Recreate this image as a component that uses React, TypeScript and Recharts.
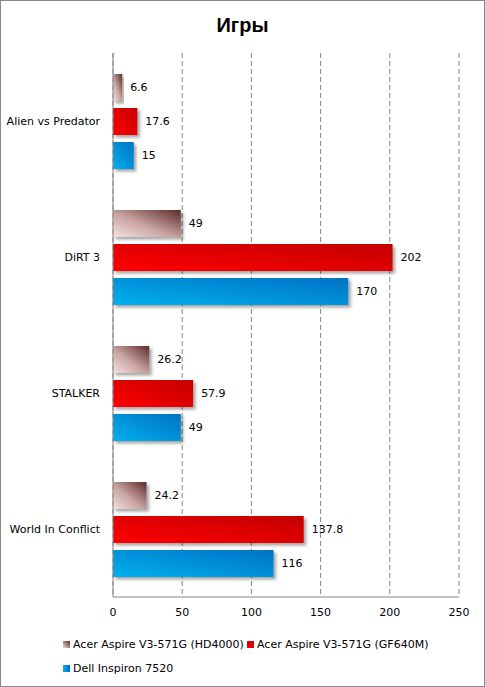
import React from "react";
import { BarChart, Bar, XAxis, YAxis, CartesianGrid, LabelList } from "recharts";

const categories = ["Alien vs Predator", "DiRT 3", "STALKER", "World In Conflict"];
const hd4000 = [6.6, 49, 26.2, 24.2];
const gf640m = [17.6, 202, 57.9, 137.8];
const dell = [15, 170, 49, 116];
const xTicks = [0, 50, 100, 150, 200, 250];
const seriesNames = [
  "Acer Aspire V3-571G (HD4000)",
  "Acer Aspire V3-571G (GF640M)",
  "Dell Inspiron 7520",
];

const data = categories.map((name, i) => ({
  name,
  hd4000: hd4000[i],
  gf640m: gf640m[i],
  dell: dell[i],
}));

const FONT = "Tahoma, 'DejaVu Sans', sans-serif";
const AXIS = "#868686";

const legendItems = [
  { name: seriesNames[0], bg: "linear-gradient(45deg, #f2dcdb, #5b2a28)", left: 63, top: 638 },
  { name: seriesNames[1], bg: "#e00000", left: 247, top: 638 },
  { name: seriesNames[2], bg: "linear-gradient(90deg, #00b0f0, #0070c0)", left: 63, top: 662 },
];

// category label without wrapping
const CategoryTick = (props: any) => {
  const { x, y, payload } = props;
  return (
    <text x={x} y={y} dy={4} textAnchor="end" fill="#000" fontSize={11} fontFamily={FONT}>
      {payload.value}
    </text>
  );
};

export default function App() {
  return (
    <div
      style={{
        position: "absolute",
        left: 0,
        top: 0,
        width: 485,
        height: 687,
        background: "#fff",
        fontFamily: FONT,
      }}
    >
      <div
        style={{
          position: "absolute",
          inset: 0,
          border: "1px solid #888",
          pointerEvents: "none",
        }}
      />
      <div
        style={{
          position: "absolute",
          top: 14,
          left: 0,
          width: 485,
          textAlign: "center",
          fontFamily: "'Liberation Sans', Arial, sans-serif",
          fontWeight: "bold",
          fontSize: 20,
          color: "#000",
        }}
      >
        Игры
      </div>
      <BarChart
        width={485}
        height={687}
        data={data}
        layout="vertical"
        margin={{ top: 53, right: 26, bottom: 60, left: 0 }}
        barSize={27}
        barGap={7}
      >
        <defs>
          <linearGradient id="gHd" x1="0" y1="1" x2="1" y2="0">
            <stop offset="0%" stopColor="#f4e2e1" />
            <stop offset="45%" stopColor="#c9a4a2" />
            <stop offset="100%" stopColor="#5b2a28" />
          </linearGradient>
          <linearGradient id="gGf" x1="0" y1="1" x2="1" y2="0">
            <stop offset="0%" stopColor="#ff0000" />
            <stop offset="100%" stopColor="#c20000" />
          </linearGradient>
          <linearGradient id="gDell" x1="0" y1="1" x2="1" y2="0">
            <stop offset="0%" stopColor="#00b0f0" />
            <stop offset="100%" stopColor="#0072c2" />
          </linearGradient>
          <filter id="shadow" x="-10%" y="-20%" width="130%" height="160%">
            <feDropShadow dx="2.5" dy="2.5" stdDeviation="1.5" floodColor="#000" floodOpacity="0.35" />
          </filter>
        </defs>
        <CartesianGrid horizontal={false} stroke={AXIS} strokeDasharray="5 3" />
        <XAxis
          type="number"
          domain={[0, 250]}
          ticks={xTicks}
          axisLine={{ stroke: AXIS }}
          tickLine={false}
          tickMargin={5}
          height={30}
          tick={{ fill: "#000", fontSize: 11, fontFamily: FONT }}
        />
        <YAxis
          type="category"
          dataKey="name"
          width={113}
          axisLine={{ stroke: AXIS }}
          tickLine={false}
          tickMargin={7}
          tick={<CategoryTick />}
        />
        <Bar dataKey="hd4000" name={seriesNames[0]} fill="url(#gHd)" filter="url(#shadow)" isAnimationActive={false}>
          <LabelList dataKey="hd4000" position="right" offset={8} fill="#000" fontSize={11} fontFamily={FONT} />
        </Bar>
        <Bar dataKey="gf640m" name={seriesNames[1]} fill="url(#gGf)" filter="url(#shadow)" isAnimationActive={false}>
          <LabelList dataKey="gf640m" position="right" offset={8} fill="#000" fontSize={11} fontFamily={FONT} />
        </Bar>
        <Bar dataKey="dell" name={seriesNames[2]} fill="url(#gDell)" filter="url(#shadow)" isAnimationActive={false}>
          <LabelList dataKey="dell" position="right" offset={8} fill="#000" fontSize={11} fontFamily={FONT} />
        </Bar>
      </BarChart>
      {legendItems.map((it) => (
        <div
          key={it.name}
          style={{
            position: "absolute",
            left: it.left,
            top: it.top,
            display: "flex",
            alignItems: "center",
            fontSize: 11,
            color: "#000",
            whiteSpace: "nowrap",
          }}
        >
          <span style={{ width: 7, height: 7, background: it.bg, marginRight: 3, display: "inline-block" }} />
          {it.name}
        </div>
      ))}
    </div>
  );
}
